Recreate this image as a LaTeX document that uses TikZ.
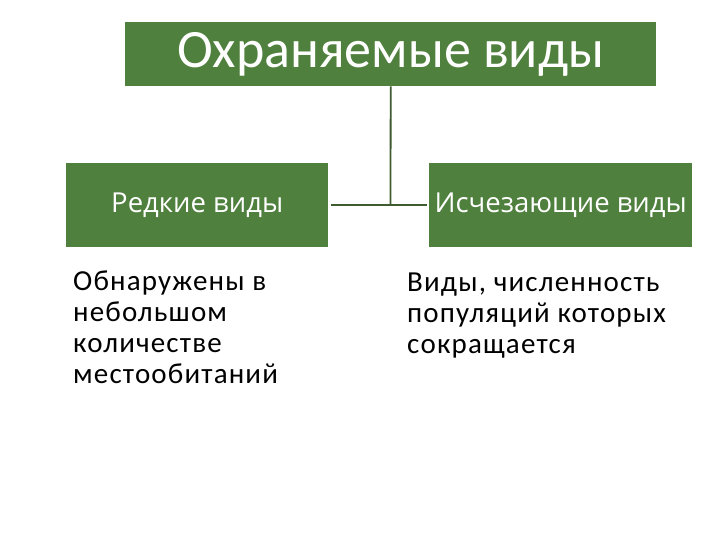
\documentclass[tikz,border=0pt]{standalone}
\usepackage{fontspec}
\setmainfont{Carlito}
\newfontfamily\boxfont{Open Sans}
\newfontfamily\bodyfont[LetterSpace=4]{Carlito}
\definecolor{grn}{RGB}{80,128,62}
\definecolor{lin}{RGB}{62,92,48}
\begin{document}
\begin{tikzpicture}[x=1pt,y=-1pt]
\useasboundingbox[fill=white] (0,0) rectangle (720,540);
\tikzset{
  gbox/.style={fill=grn, draw=none, text=white, inner sep=0pt, anchor=north west},
  subbox/.style={gbox, minimum width=262pt, minimum height=84pt, font=\boxfont\fontsize{27.5}{30}\selectfont},
  body/.style={anchor=north west, align=left, inner sep=0pt, text=black, font=\bodyfont\fontsize{29}{31}\selectfont},
  conn/.style={draw=lin, line width=1.8pt}
}
\node[gbox, minimum width=531pt, minimum height=64pt, font=\fontsize{54}{58}\selectfont] (top) at (125,22) {Охраняемые виды};
\node[subbox] (rare) at (66,163) {Редкие виды};
\node[subbox, minimum width=263pt] (endang) at (429,163) {Исчезающие виды};
\coordinate (j) at (390.5,205);
\draw[conn] (top.south) -- (j);
\draw[conn, shorten <=3pt, shorten >=2pt] (rare.east) -- (endang.west);
\node[body] (rtxt) at (73,271) {Обнаружены в\\небольшом\\количестве\\местообитаний};
\node[body] (etxt) at (407,273) {Виды, численность\\популяций которых\\сокращается};
\end{tikzpicture}
\end{document}
